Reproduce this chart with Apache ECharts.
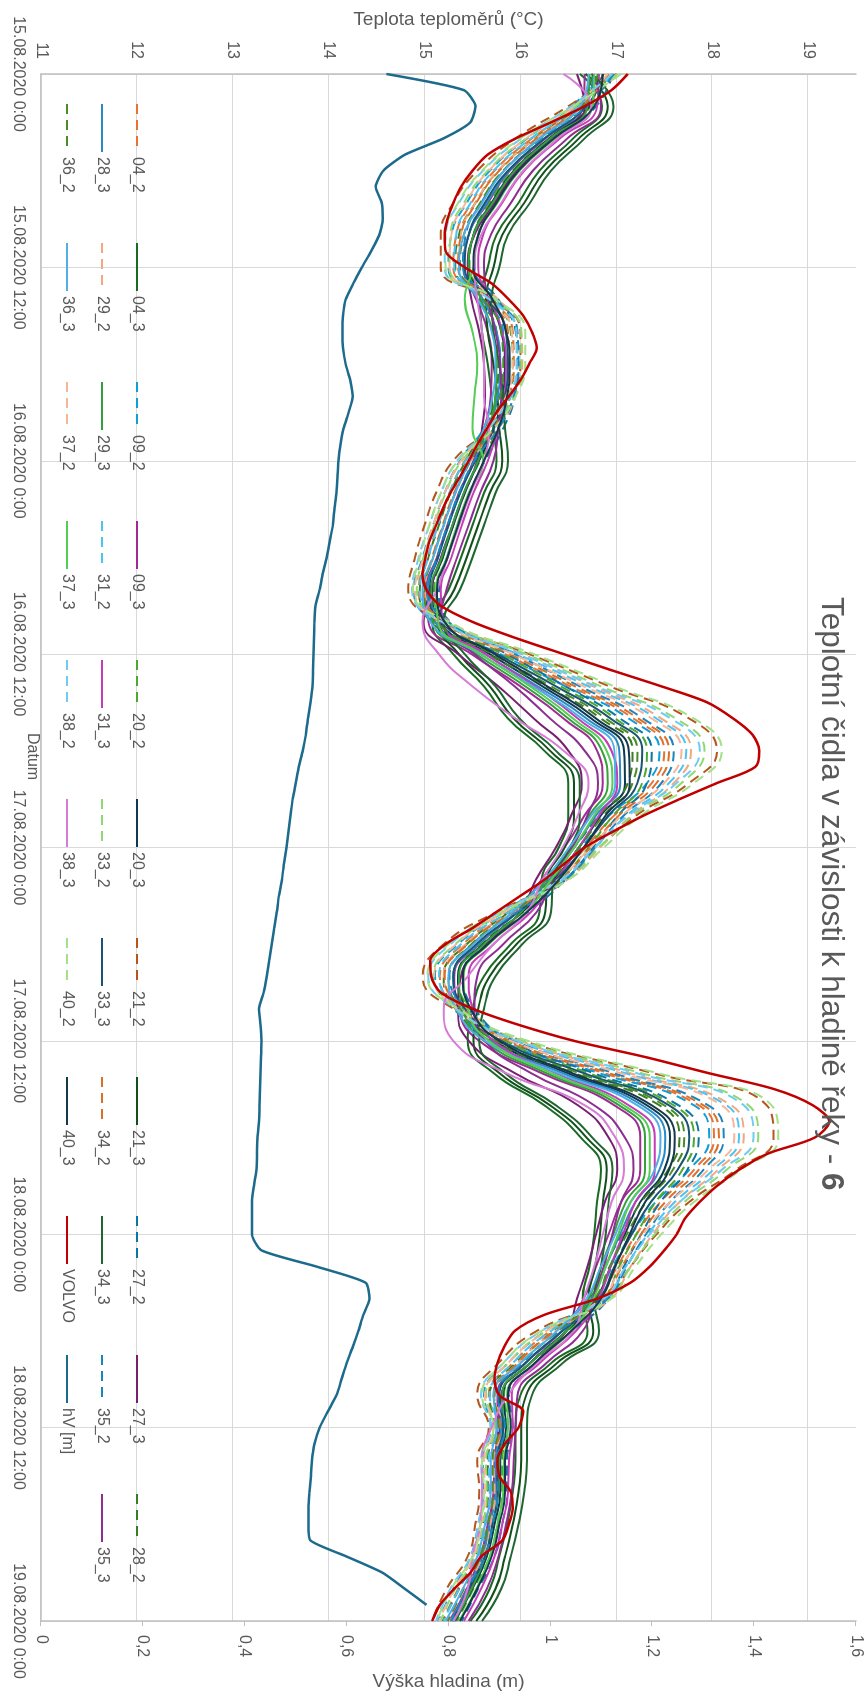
<!DOCTYPE html>
<html>
<head>
<meta charset="utf-8">
<title>Teplotní čidla v závislosti k hladině řeky - 6</title>
<script src="https://cdn.jsdelivr.net/npm/echarts@6/dist/echarts.min.js"></script>
<style>
  html, body { margin: 0; padding: 0; background: #fff; }
  body { width: 868px; height: 1694px; overflow: hidden; position: relative; }
  /* graf se kreslí na šířku a celý se otočí o 90° doprava */
  #chart {
    position: absolute; left: 0; top: 0;
    width: 1694px; height: 868px;
    transform-origin: 0 0;
    transform: translate(868px, 0) rotate(90deg);
  }
</style>
</head>
<body>
<div id="chart"></div>
<script>
  // popisky osy X (po 12 hodinách)
  const dateLabels = ['15.08.2020 0:00', '15.08.2020 12:00', '16.08.2020 0:00', '16.08.2020 12:00',
    '17.08.2020 0:00', '17.08.2020 12:00', '18.08.2020 0:00', '18.08.2020 12:00', '19.08.2020 0:00']
  const tempTicks = [11, 12, 13, 14, 15, 16, 17, 18, 19]

  // čas v hodinách od 15.08.2020 0:00 (čidla po 2 h, VOLVO a hladina po 1 h)
  const hours = Array.from({ length: 49 }, (_, i) => i * 2)
  const hourly = Array.from({ length: 97 }, (_, i) => i)

  // teploty (°C)
  const t04_2 = [16.87,16.59,16.12,15.73,15.49,15.33,15.30,15.65,15.87,15.88,15.83,15.67,15.42,15.26,15.14,15.03,14.94,15.15,15.84,16.52,17.18,17.50,17.37,16.98,16.68,16.37,15.87,15.40,15.16,15.35,15.84,16.87,17.86,18.02,17.81,17.46,17.21,17.01,16.81,16.31,15.92,15.67,15.74,15.66,15.66,15.61,15.53,15.35,15.19]
  const t04_3 = [16.62,16.85,16.55,16.2,15.98,15.75,15.66,15.58,15.6,15.66,15.7,15.72,15.75,15.62,15.5,15.38,15.25,15.08,15.3,15.62,15.87,16.25,16.5,16.5,16.4,16.22,16.2,15.9,15.62,15.5,15.45,15.72,16.25,16.63,16.84,16.8,16.77,16.72,16.65,16.7,16.32,16.0,15.95,15.95,15.92,15.86,15.78,15.68,15.48]
  const t09_2 = [16.82,16.54,16.07,15.68,15.44,15.28,15.25,15.6,15.82,15.83,15.78,15.62,15.37,15.21,15.09,14.98,14.89,15.1,15.79,16.47,17.13,17.45,17.32,16.93,16.63,16.32,15.82,15.35,15.11,15.3,15.79,16.82,17.81,17.97,17.76,17.41,17.16,16.96,16.76,16.26,15.87,15.62,15.69,15.61,15.61,15.56,15.48,15.3,15.14]
  const t09_3 = [16.67,16.65,16.26,15.89,15.66,15.46,15.41,15.54,15.66,15.7,15.69,15.62,15.51,15.36,15.24,15.13,15.02,15.04,15.49,16.0,16.45,16.8,16.86,16.67,16.46,16.22,15.96,15.57,15.31,15.35,15.57,16.22,16.98,17.25,17.25,17.05,16.92,16.79,16.66,16.43,16.05,15.76,15.77,15.73,15.72,15.66,15.58,15.44,15.26]
  const t20_2 = [16.91,16.74,16.3,15.92,15.68,15.51,15.47,15.72,15.9,15.92,15.89,15.77,15.58,15.42,15.3,15.19,15.1,15.22,15.81,16.42,16.99,17.32,17.27,16.97,16.71,16.42,16.03,15.59,15.35,15.47,15.85,16.71,17.6,17.81,17.69,17.41,17.21,17.03,16.87,16.49,16.1,15.83,15.87,15.81,15.81,15.76,15.68,15.51,15.34]
  const t20_3 = [16.81,16.72,16.30,15.93,15.70,15.51,15.46,15.66,15.80,15.84,15.81,15.72,15.57,15.42,15.30,15.19,15.08,15.16,15.68,16.23,16.74,17.08,17.09,16.84,16.61,16.35,16.02,15.61,15.35,15.43,15.73,16.49,17.32,17.56,17.50,17.25,17.09,16.94,16.79,16.48,16.1,15.82,15.85,15.79,15.79,15.73,15.65,15.5,15.32]
  const t21_2 = [17.0,16.5,15.95,15.55,15.3,15.17,15.17,15.7,16.0,16.0,15.9,15.67,15.3,15.12,15.0,14.9,14.83,15.2,16.09,16.93,17.76,18.05,17.76,17.21,16.82,16.45,15.75,15.2,14.98,15.3,16.03,17.38,18.57,18.64,18.25,17.76,17.42,17.15,16.9,16.17,15.77,15.55,15.67,15.55,15.57,15.53,15.45,15.23,15.08]
  const t21_3 = [16.68,16.91,16.61,16.26,16.04,15.81,15.72,15.64,15.66,15.72,15.76,15.78,15.81,15.68,15.56,15.44,15.31,15.14,15.36,15.68,15.93,16.31,16.56,16.56,16.46,16.28,16.26,15.96,15.68,15.56,15.51,15.78,16.31,16.69,16.9,16.86,16.83,16.78,16.71,16.76,16.38,16.06,16.01,16.01,15.98,15.92,15.84,15.74,15.54]
  const t27_2 = [16.96,16.79,16.35,15.97,15.73,15.56,15.52,15.77,15.95,15.97,15.94,15.82,15.63,15.47,15.35,15.24,15.15,15.27,15.86,16.47,17.04,17.37,17.32,17.02,16.76,16.47,16.08,15.64,15.4,15.52,15.9,16.76,17.65,17.86,17.74,17.46,17.26,17.08,16.92,16.54,16.15,15.88,15.92,15.86,15.86,15.81,15.73,15.56,15.39]
  const t27_3 = [16.59,16.67,16.32,15.96,15.73,15.52,15.45,15.49,15.57,15.62,15.63,15.6,15.55,15.41,15.29,15.17,15.06,14.99,15.35,15.77,16.14,16.5,16.64,16.53,16.37,16.16,16.0,15.65,15.38,15.35,15.46,15.94,16.6,16.92,17.01,16.88,16.79,16.7,16.59,16.48,16.1,15.8,15.78,15.76,15.74,15.68,15.6,15.48,15.29]
  const t28_2 = [16.76,16.59,16.15,15.77,15.53,15.36,15.32,15.57,15.75,15.77,15.74,15.62,15.43,15.27,15.15,15.04,14.95,15.07,15.66,16.27,16.84,17.17,17.12,16.82,16.56,16.27,15.88,15.44,15.2,15.32,15.7,16.56,17.45,17.66,17.54,17.26,17.06,16.88,16.72,16.34,15.95,15.68,15.72,15.66,15.66,15.61,15.53,15.36,15.19]
  const t28_3 = [16.76,16.67,16.25,15.88,15.65,15.46,15.41,15.61,15.75,15.79,15.76,15.67,15.52,15.37,15.25,15.14,15.03,15.11,15.63,16.18,16.69,17.03,17.04,16.79,16.56,16.3,15.97,15.56,15.3,15.38,15.68,16.44,17.27,17.51,17.45,17.2,17.04,16.89,16.74,16.43,16.05,15.77,15.8,15.74,15.74,15.68,15.6,15.45,15.27]
  const t29_2 = [17.01,16.66,16.16,15.77,15.53,15.38,15.36,15.77,16.01,16.02,15.95,15.77,15.48,15.31,15.19,15.09,15.0,15.27,16.02,16.76,17.47,17.78,17.6,17.16,16.83,16.49,15.93,15.43,15.2,15.43,16.0,17.14,18.2,18.33,18.06,17.66,17.38,17.15,16.94,16.37,15.97,15.73,15.82,15.72,15.73,15.69,15.61,15.41,15.25]
  const t29_3 = [16.72,16.7,16.31,15.94,15.71,15.51,15.46,15.59,15.71,15.75,15.74,15.67,15.56,15.41,15.29,15.18,15.07,15.09,15.54,16.05,16.5,16.85,16.91,16.72,16.51,16.27,16.01,15.62,15.36,15.4,15.62,16.27,17.03,17.3,17.3,17.1,16.97,16.84,16.71,16.48,16.1,15.81,15.82,15.78,15.77,15.71,15.63,15.49,15.31]
  const t31_2 = [16.96,16.61,16.11,15.72,15.48,15.33,15.31,15.72,15.96,15.97,15.9,15.72,15.43,15.26,15.14,15.04,14.95,15.22,15.97,16.71,17.42,17.73,17.55,17.11,16.78,16.44,15.88,15.38,15.15,15.38,15.95,17.09,18.15,18.28,18.01,17.61,17.33,17.10,16.89,16.32,15.92,15.68,15.77,15.67,15.68,15.64,15.56,15.36,15.2]
  const t31_3 = [16.82,16.8,16.41,16.04,15.81,15.61,15.56,15.69,15.81,15.85,15.84,15.77,15.66,15.51,15.39,15.28,15.17,15.19,15.64,16.15,16.6,16.95,17.01,16.82,16.61,16.37,16.11,15.72,15.46,15.5,15.72,16.37,17.13,17.4,17.4,17.2,17.07,16.94,16.81,16.58,16.2,15.91,15.92,15.88,15.87,15.81,15.73,15.59,15.41]
  const t33_2 = [17.01,16.58,16.06,15.66,15.41,15.27,15.26,15.73,16.01,16.01,15.93,15.72,15.39,15.22,15.10,14.99,14.92,15.23,16.06,16.84,17.62,17.92,17.68,17.18,16.82,16.47,15.84,15.32,15.09,15.37,16.02,17.26,18.38,18.48,18.15,17.71,17.40,17.15,16.92,16.27,15.87,15.64,15.74,15.64,15.65,15.61,15.53,15.32,15.17]
  const t33_3 = [16.86,16.69,16.25,15.87,15.63,15.46,15.42,15.67,15.85,15.87,15.84,15.72,15.53,15.37,15.25,15.14,15.05,15.17,15.76,16.37,16.94,17.27,17.22,16.92,16.66,16.37,15.98,15.54,15.30,15.42,15.80,16.66,17.55,17.76,17.64,17.36,17.16,16.98,16.82,16.44,16.05,15.78,15.82,15.76,15.76,15.71,15.63,15.46,15.29]
  const t34_2 = [16.92,16.64,16.17,15.78,15.54,15.38,15.35,15.70,15.92,15.93,15.88,15.72,15.47,15.31,15.19,15.08,14.99,15.2,15.89,16.57,17.23,17.55,17.42,17.03,16.73,16.42,15.92,15.45,15.21,15.4,15.89,16.92,17.91,18.07,17.86,17.51,17.26,17.06,16.86,16.36,15.97,15.72,15.79,15.71,15.71,15.66,15.58,15.4,15.24]
  const t34_3 = [16.74,16.97,16.67,16.32,16.1,15.87,15.78,15.7,15.72,15.78,15.82,15.84,15.87,15.74,15.62,15.5,15.37,15.2,15.42,15.74,15.99,16.37,16.62,16.62,16.52,16.34,16.32,16.02,15.74,15.62,15.57,15.84,16.37,16.75,16.96,16.92,16.89,16.84,16.77,16.82,16.44,16.12,16.07,16.07,16.04,15.98,15.9,15.8,15.6]
  const t35_2 = [16.97,16.69,16.22,15.83,15.59,15.43,15.4,15.75,15.97,15.98,15.93,15.77,15.52,15.36,15.24,15.13,15.04,15.25,15.94,16.62,17.28,17.6,17.47,17.08,16.78,16.47,15.97,15.5,15.26,15.45,15.94,16.97,17.96,18.12,17.91,17.56,17.31,17.11,16.91,16.41,16.02,15.77,15.84,15.76,15.76,15.71,15.63,15.45,15.29]
  const t35_3 = [16.76,16.84,16.49,16.13,15.9,15.69,15.62,15.66,15.74,15.79,15.8,15.77,15.72,15.58,15.46,15.34,15.23,15.16,15.52,15.94,16.31,16.67,16.81,16.7,16.54,16.33,16.17,15.82,15.55,15.52,15.63,16.11,16.77,17.09,17.18,17.05,16.96,16.87,16.76,16.65,16.27,15.97,15.95,15.93,15.91,15.85,15.77,15.65,15.46]
  const t36_2 = [16.81,16.64,16.2,15.82,15.58,15.41,15.37,15.62,15.8,15.82,15.79,15.67,15.48,15.32,15.2,15.09,15.0,15.12,15.71,16.32,16.89,17.22,17.17,16.87,16.61,16.32,15.93,15.49,15.25,15.37,15.75,16.61,17.5,17.71,17.59,17.31,17.11,16.93,16.77,16.39,16.0,15.73,15.77,15.71,15.71,15.66,15.58,15.41,15.24]
  const t36_3 = [16.71,16.62,16.2,15.83,15.6,15.41,15.36,15.56,15.7,15.74,15.71,15.62,15.47,15.32,15.2,15.09,14.98,15.06,15.58,16.13,16.64,16.98,16.99,16.74,16.51,16.25,15.92,15.51,15.25,15.33,15.63,16.39,17.22,17.46,17.4,17.15,16.99,16.84,16.69,16.38,16.0,15.72,15.75,15.69,15.69,15.63,15.55,15.4,15.22]
  const t37_2 = [16.91,16.56,16.06,15.67,15.43,15.28,15.26,15.67,15.91,15.92,15.85,15.67,15.38,15.21,15.09,14.99,14.9,15.17,15.92,16.66,17.37,17.68,17.5,17.06,16.73,16.39,15.83,15.33,15.1,15.33,15.9,17.04,18.1,18.23,17.96,17.56,17.28,17.05,16.84,16.27,15.87,15.63,15.72,15.62,15.63,15.59,15.51,15.31,15.15]
  const t37_3 = [16.77,16.75,16.36,15.99,15.76,15.56,15.51,15.42,15.5,15.55,15.52,15.5,15.61,15.46,15.34,15.23,15.12,15.14,15.59,16.10,16.55,16.90,16.96,16.77,16.56,16.32,16.06,15.67,15.41,15.45,15.67,16.32,17.08,17.35,17.35,17.15,17.02,16.89,16.76,16.53,16.15,15.86,15.87,15.83,15.82,15.76,15.68,15.54,15.36]
  const t38_2 = [16.96,16.53,16.01,15.61,15.36,15.22,15.21,15.68,15.96,15.96,15.88,15.67,15.34,15.17,15.05,14.94,14.87,15.18,16.01,16.79,17.57,17.87,17.63,17.13,16.77,16.42,15.79,15.27,15.04,15.32,15.97,17.21,18.33,18.43,18.1,17.66,17.35,17.1,16.87,16.22,15.82,15.59,15.69,15.59,15.6,15.56,15.48,15.27,15.12]
  const t38_3 = [16.45,16.74,16.39,16.03,15.8,15.59,15.52,15.55,15.6,15.62,15.62,15.67,15.62,15.48,15.36,15.24,15.13,14.98,15.15,15.5,15.95,16.45,16.71,16.6,16.44,16.23,16.07,15.72,15.45,15.2,15.3,15.85,16.67,16.99,17.08,16.95,16.86,16.77,16.66,16.55,16.17,15.87,15.7,15.6,15.6,15.58,15.5,15.45,15.3]
  const t40_2 = [17.05,16.55,16.0,15.6,15.35,15.22,15.22,15.75,16.05,16.05,15.95,15.72,15.35,15.17,15.05,14.95,14.88,15.25,16.14,16.98,17.81,18.1,17.81,17.26,16.87,16.5,15.8,15.25,15.03,15.35,16.08,17.43,18.62,18.69,18.3,17.81,17.47,17.2,16.95,16.22,15.82,15.6,15.72,15.6,15.62,15.58,15.5,15.28,15.13]
  const t40_3 = [16.86,16.77,16.35,15.98,15.75,15.56,15.51,15.71,15.85,15.89,15.86,15.77,15.62,15.47,15.35,15.24,15.13,15.21,15.73,16.28,16.79,17.13,17.14,16.89,16.66,16.4,16.07,15.66,15.4,15.48,15.78,16.54,17.37,17.61,17.55,17.3,17.14,16.99,16.84,16.53,16.15,15.87,15.9,15.84,15.84,15.78,15.7,15.55,15.37]
  // VOLVO po hodinách
  const tVolvo = [17.12,16.95,16.67,16.32,15.95,15.66,15.5,15.38,15.3,15.24,
    15.21,15.22,15.42,15.7,15.88,16.03,16.12,16.17,16.09,16.0,
    15.88,15.75,15.65,15.55,15.46,15.37,15.27,15.19,15.12,15.05,
    15.01,14.98,15.02,15.17,15.5,15.95,16.45,16.95,17.47,17.95,
    18.22,18.42,18.49,18.45,18.05,17.66,17.29,16.97,16.67,16.46,
    16.25,16.0,15.75,15.5,15.22,15.06,15.07,15.17,15.5,15.98,
    16.56,17.3,17.96,18.65,19.05,19.22,19.07,18.58,18.28,18.05,
    17.87,17.72,17.63,17.5,17.35,17.15,16.8,16.25,15.94,15.83,
    15.76,15.73,15.78,16.03,15.98,15.84,15.76,15.78,15.9,15.92,
    15.88,15.81,15.59,15.48,15.31,15.16,15.08]

  // výška hladiny (m), po hodinách
  const hV = [0.678,0.83,0.853,0.843,0.79,0.715,0.672,0.657,0.669,0.671,
    0.664,0.648,0.63,0.613,0.598,0.593,0.592,0.593,0.598,0.607,
    0.612,0.604,0.594,0.588,0.584,0.582,0.58,0.576,0.573,0.567,
    0.561,0.553,0.547,0.539,0.537,0.536,0.535,0.534,0.533,0.529,
    0.524,0.52,0.514,0.506,0.5,0.494,0.49,0.486,0.482,0.477,
    0.473,0.467,0.463,0.458,0.453,0.448,0.443,0.437,0.428,0.431,
    0.433,0.432,0.431,0.43,0.429,0.428,0.425,0.424,0.423,0.418,
    0.414,0.414,0.414,0.433,0.54,0.637,0.645,0.633,0.623,0.612,
    0.6,0.59,0.58,0.563,0.547,0.537,0.532,0.53,0.527,0.525,
    0.525,0.529,0.6,0.67,0.714,0.757]

  // řádky legendy
  const legendRow1 = ['04_2', '04_3', '09_2', '09_3', '20_2', '20_3', '21_2', '21_3', '27_2', '27_3', '28_2']
  const legendRow2 = ['28_3', '29_2', '29_3', '31_2', '31_3', '33_2', '33_3', '34_2', '34_3', '35_2', '35_3']
  const legendRow3 = ['36_2', '36_3', '37_2', '37_3', '38_2', '38_3', '40_2', '40_3', 'VOLVO', 'hV [m]']

  const tempSeries = [
    { name: '04_2', data: t04_2, color: '#E97132', dash: true },
    { name: '04_3', data: t04_3, color: '#196B24' },
    { name: '09_2', data: t09_2, color: '#0F9ED5', dash: true },
    { name: '09_3', data: t09_3, color: '#A02B93' },
    { name: '20_2', data: t20_2, color: '#4EA72E', dash: true },
    { name: '20_3', data: t20_3, color: '#0E3A4F' },
    { name: '21_2', data: t21_2, color: '#B4561E', dash: true },
    { name: '21_3', data: t21_3, color: '#12501B' },
    { name: '27_2', data: t27_2, color: '#0B76A0', dash: true },
    { name: '27_3', data: t27_3, color: '#782070' },
    { name: '28_2', data: t28_2, color: '#3B7D23', dash: true },
    { name: '28_3', data: t28_3, color: '#2E8AC6' },
    { name: '29_2', data: t29_2, color: '#F1A983', dash: true },
    { name: '29_3', data: t29_3, color: '#35A03C' },
    { name: '31_2', data: t31_2, color: '#4CC3F0', dash: true },
    { name: '31_3', data: t31_3, color: '#C43DB6' },
    { name: '33_2', data: t33_2, color: '#8ED973', dash: true },
    { name: '33_3', data: t33_3, color: '#1A5473' },
    { name: '34_2', data: t34_2, color: '#D8702A', dash: true },
    { name: '34_3', data: t34_3, color: '#1F6630' },
    { name: '35_2', data: t35_2, color: '#1C86BC', dash: true },
    { name: '35_3', data: t35_3, color: '#8B3090' },
    { name: '36_2', data: t36_2, color: '#4A8C2C', dash: true },
    { name: '36_3', data: t36_3, color: '#4FAFE6' },
    { name: '37_2', data: t37_2, color: '#F5B797', dash: true },
    { name: '37_3', data: t37_3, color: '#55CC55' },
    { name: '38_2', data: t38_2, color: '#70CBF0', dash: true },
    { name: '38_3', data: t38_3, color: '#D67BD6' },
    { name: '40_2', data: t40_2, color: '#A2E08A', dash: true },
    { name: '40_3', data: t40_3, color: '#15384A' },
  ]

  const font = "'Liberation Sans', Arial, sans-serif"
  const grey = '#595959'

  const chart = echarts.init(document.getElementById('chart'))

  const series = tempSeries.map((s) => ({
    name: s.name,
    type: 'line',
    yAxisIndex: 0,
    data: s.data.map((v, i) => [hours[i], v]),
    symbol: 'none',
    smooth: 0.5,
    color: s.color,
    lineStyle: { width: 2, color: s.color, type: s.dash ? [10, 6] : 'solid' },
  }))
  series.push({
    name: 'VOLVO',
    type: 'line',
    yAxisIndex: 0,
    data: tVolvo.map((v, i) => [hourly[i], v]),
    symbol: 'none',
    smooth: 0.3,
    color: '#C00000',
    lineStyle: { width: 2.5, color: '#C00000' },
  })
  series.push({
    name: 'hV [m]',
    type: 'line',
    yAxisIndex: 1,
    data: hV.map((v, i) => [hourly[i], v]),
    symbol: 'none',
    smooth: 0.2,
    color: '#1C6A8C',
    lineStyle: { width: 2.5, color: '#1C6A8C' },
  })

  const option = {
    animation: false,
    textStyle: { fontFamily: font },
    title: {
      text: '{n|Teplotní čidla v závislosti k hladině řeky - }{b|6}',
      left: 597,
      top: 22,
      padding: 0,
      textStyle: {
        fontWeight: 'normal',
        rich: {
          n: { fontSize: 31.5, color: grey, fontFamily: font, fontWeight: 'normal', lineHeight: 31 },
          b: { fontSize: 31.5, color: grey, fontFamily: font, fontWeight: 'bold', lineHeight: 31 },
        },
      },
    },
    graphic: [
      {
        type: 'text',
        left: 733,
        top: 828,
        style: { text: 'Datum', fontSize: 16, fill: grey, fontFamily: font },
      },
    ],
    legend: [legendRow1, legendRow2, legendRow3].map((row, k) => ({
      data: row,
      orient: 'horizontal',
      left: 103,
      top: 722 + k * 35,
      padding: 0,
      itemWidth: 48,
      itemHeight: 14,
      itemGap: 15,
      selectedMode: false,
      itemStyle: { opacity: 0 },
      textStyle: { fontSize: 16, color: grey, fontFamily: font, width: 70, overflow: 'truncate', lineHeight: 18 },
    })),
    grid: { left: 74, right: 73, top: 12, bottom: 41, containLabel: false, outerBoundsMode: 'none' },
    xAxis: {
      type: 'value',
      min: 0,
      max: 96,
      interval: 12,
      axisLine: { show: true, onZero: false, lineStyle: { color: '#bfbfbf', width: 1.5 } },
      axisTick: { show: false },
      splitLine: { show: true, lineStyle: { color: '#d9d9d9', width: 1 } },
      axisLabel: {
        formatter: (v) => dateLabels[Math.round(v / 12)] || '',
        color: grey,
        fontSize: 16,
        margin: 15,
        showMinLabel: true,
        showMaxLabel: true,
        hideOverlap: false,
      },
    },
    yAxis: [
      {
        type: 'value',
        position: 'left',
        min: 11,
        max: 19.5,
        interval: 1,
        name: 'Teplota teploměrů (°C)',
        nameLocation: 'middle',
        nameGap: 45,
        nameRotate: 90,
        nameTextStyle: { color: grey, fontSize: 19, fontFamily: font },
        axisLine: { show: true, onZero: false, lineStyle: { color: '#bfbfbf', width: 1.5 } },
        axisTick: { show: false, customValues: tempTicks },
        axisLabel: { color: grey, fontSize: 16, margin: 15, customValues: tempTicks },
        splitLine: { show: true, lineStyle: { color: '#d9d9d9', width: 1 } },
      },
      {
        type: 'value',
        position: 'right',
        min: 0,
        max: 1.6,
        interval: 0.2,
        name: 'Výška hladina (m)',
        nameLocation: 'middle',
        nameGap: 51,
        nameRotate: 90,
        nameTextStyle: { color: grey, fontSize: 19, fontFamily: font },
        axisLine: { show: true, onZero: false, lineStyle: { color: '#bfbfbf', width: 1.5 } },
        axisTick: { show: true, length: 5, lineStyle: { color: '#bfbfbf' } },
        axisLabel: {
          color: grey,
          fontSize: 16,
          margin: 14,
          formatter: (v) => String(+v.toFixed(1)).replace('.', ','),
        },
        splitLine: { show: false },
      },
    ],
    series: series,
  }

  chart.setOption(option)
</script>
</body>
</html>
